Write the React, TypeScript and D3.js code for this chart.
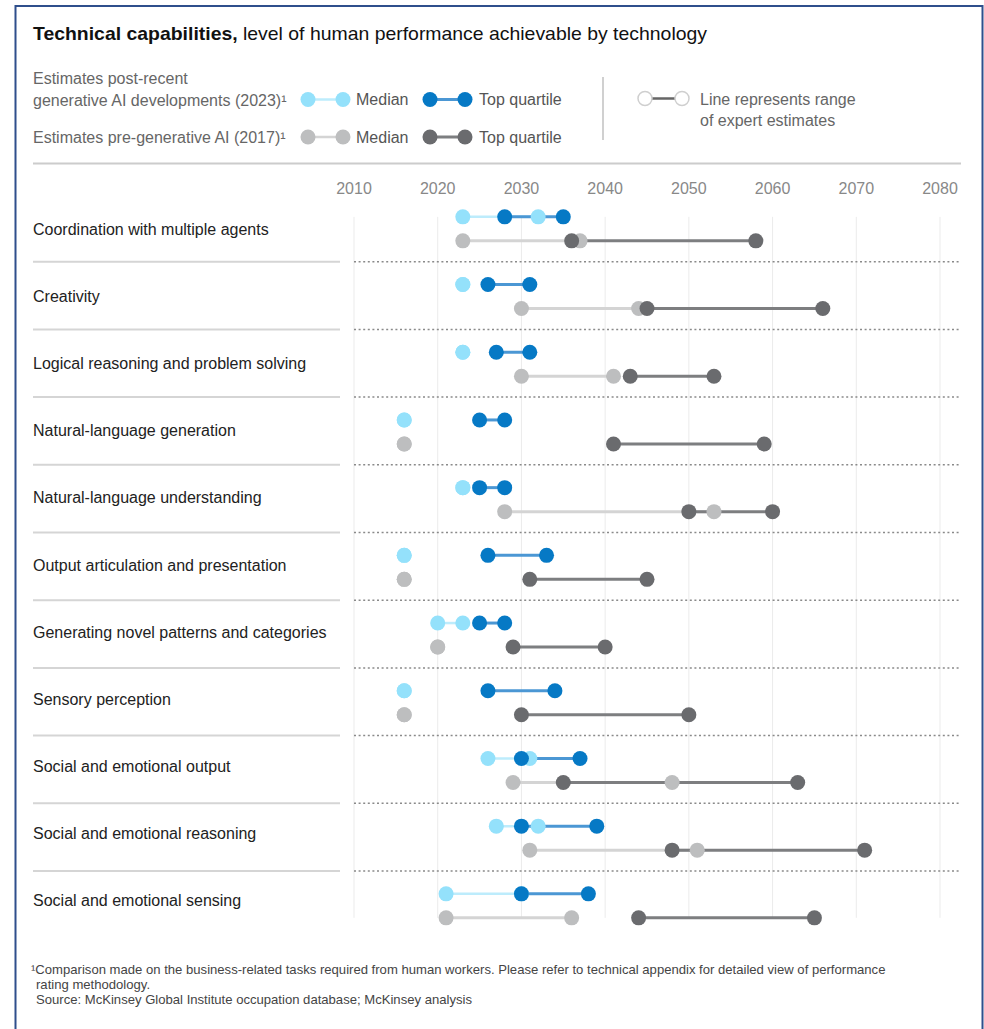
import React from "react";
import * as d3 from "d3";

const categories = [
  "Coordination with multiple agents",
  "Creativity",
  "Logical reasoning and problem solving",
  "Natural-language generation",
  "Natural-language understanding",
  "Output articulation and presentation",
  "Generating novel patterns and categories",
  "Sensory perception",
  "Social and emotional output",
  "Social and emotional reasoning",
  "Social and emotional sensing",
];

// [low, high] year ranges of expert estimates
const median2023: [number, number][] = [
  [2023, 2032], [2023, 2023], [2023, 2023], [2016, 2016], [2023, 2023], [2016, 2016],
  [2020, 2023], [2016, 2016], [2026, 2031], [2027, 2032], [2021, 2030],
];
const top2023: [number, number][] = [
  [2028, 2035], [2026, 2031], [2027, 2031], [2025, 2028], [2025, 2028], [2026, 2033],
  [2025, 2028], [2026, 2034], [2030, 2037], [2030, 2039], [2030, 2038],
];
const median2017: [number, number][] = [
  [2023, 2037], [2030, 2044], [2030, 2041], [2016, 2016], [2028, 2053], [2016, 2016],
  [2020, 2020], [2016, 2016], [2029, 2048], [2031, 2051], [2021, 2036],
];
const top2017: [number, number][] = [
  [2036, 2058], [2045, 2066], [2043, 2053], [2041, 2059], [2050, 2060], [2031, 2045],
  [2029, 2040], [2030, 2050], [2035, 2063], [2048, 2071], [2044, 2065],
];
const yearTicks = [2010, 2020, 2030, 2040, 2050, 2060, 2070, 2080];

const C = {
  lbDot: "#94e1fb", lbLine: "#bdecfc",
  dbDot: "#0679c5", dbLine: "#4b97d4",
  lgDot: "#bdbebf", lgLine: "#d4d4d4",
  dgDot: "#6a6b6e", dgLine: "#7d7e80",
};
const FONT = "'Liberation Sans', Arial, sans-serif";
const R = 7.5;

type Series = { data: [number, number][]; dot: string; line: string; lw: number; dy: number };

export default function App() {
  const x = d3.scaleLinear().domain([2010, 2080]).range([354, 940]);
  const y = d3.scaleBand<string>().domain(categories).range([195, 195 + 11 * 67.7]);
  const yl = d3.scaleBand<string>().domain(categories).range([196, 196 + 11 * 67.1]);
  const bw = y.bandwidth();
  const cy = (c: string) => (y(c) as number) + bw / 2;
  const ly = (c: string) => (yl(c) as number) + yl.bandwidth() / 2;

  const series: Series[] = [
    { data: median2023, dot: C.lbDot, line: C.lbLine, lw: 2.5, dy: -12 },
    { data: top2023, dot: C.dbDot, line: C.dbLine, lw: 3, dy: -12 },
    { data: median2017, dot: C.lgDot, line: C.lgLine, lw: 3, dy: 12 },
    { data: top2017, dot: C.dgDot, line: C.dgLine, lw: 3, dy: 12 },
  ];

  const first = cy(categories[0]);
  const last = cy(categories[categories.length - 1]);

  return (
    <div style={{ position: "absolute", left: 0, top: 0 }}>
      <svg width={984} height={1029} style={{ display: "block", background: "#fff" }} fontFamily={FONT}>
        <rect x={15.5} y={6} width={967} height={1040} fill="none" stroke="#2f4f8c" strokeWidth={2} />
        <text x={33} y={40} fontSize={19} fill="#111" textLength={674} lengthAdjust="spacingAndGlyphs">
          <tspan fontWeight="bold">Technical capabilities,</tspan>
          <tspan> level of human performance achievable by technology</tspan>
        </text>

        {/* legend */}
        <g fontSize={16} fill="#666">
          <text x={33} y={84}>Estimates post-recent</text>
          <text x={33} y={106}>generative AI developments (2023)¹</text>
          <text x={33} y={143}>Estimates pre-generative AI (2017)¹</text>
        </g>
        {[
          { yy: 99.5, a: C.lbDot, al: C.lbLine, b: C.dbDot, bl: C.dbLine },
          { yy: 137, a: C.lgDot, al: C.lgLine, b: C.dgDot, bl: C.dgLine },
        ].map((r, i) => (
          <g key={i}>
            <line x1={308} x2={343} y1={r.yy} y2={r.yy} stroke={r.al} strokeWidth={2.5} />
            <circle cx={308} cy={r.yy} r={R} fill={r.a} />
            <circle cx={343} cy={r.yy} r={R} fill={r.a} />
            <text x={356} y={r.yy + 5.5} fontSize={16} fill="#555">Median</text>
            <line x1={430} x2={465} y1={r.yy} y2={r.yy} stroke={r.bl} strokeWidth={3} />
            <circle cx={430} cy={r.yy} r={R} fill={r.b} />
            <circle cx={465} cy={r.yy} r={R} fill={r.b} />
            <text x={479} y={r.yy + 5.5} fontSize={16} fill="#555">Top quartile</text>
          </g>
        ))}
        <line x1={603} x2={603} y1={77} y2={140} stroke="#d0d0d0" strokeWidth={2} />
        <line x1={652} x2={675} y1={98.5} y2={98.5} stroke="#666" strokeWidth={2.5} />
        <circle cx={645} cy={98.5} r={7} fill="#fff" stroke="#cfcfcf" strokeWidth={1.5} />
        <circle cx={682} cy={98.5} r={7} fill="#fff" stroke="#cfcfcf" strokeWidth={1.5} />
        <g fontSize={16} fill="#666">
          <text x={700} y={104.5}>Line represents range</text>
          <text x={700} y={126}>of expert estimates</text>
        </g>

        <line x1={33} x2={961} y1={163.5} y2={163.5} stroke="#cccccc" strokeWidth={2} />

        {/* axis */}
        {yearTicks.map((t) => (
          <g key={t}>
            <text x={x(t)} y={193.5} fontSize={16} fill="#888" textAnchor="middle">{t}</text>
            <line x1={x(t)} x2={x(t)} y1={first - 12} y2={last + 12} stroke="#ebebeb" strokeWidth={1} />
          </g>
        ))}

        {/* row separators */}
        {categories.slice(0, -1).map((c) => {
          const yy = (y(c) as number) + bw - 1;
          return (
            <g key={c}>
              <line x1={33} x2={340} y1={yy} y2={yy} stroke="#d5d5d5" strokeWidth={2} />
              <line x1={354} x2={961} y1={yy} y2={yy} stroke="#8a8a8a" strokeWidth={1.5} strokeDasharray="2,2.6" />
            </g>
          );
        })}

        {/* labels */}
        {categories.map((c) => (
          <text key={c} x={33} y={ly(c) + 5.5} fontSize={16} fill="#222">{c}</text>
        ))}

        {/* lines */}
        {series.map((s, si) =>
          s.data.map((d, i) => {
            const yy = cy(categories[i]) + s.dy;
            return d[0] === d[1] ? null : (
              <line key={`l${si}-${i}`} x1={x(d[0])} x2={x(d[1])} y1={yy} y2={yy} stroke={s.line} strokeWidth={s.lw} />
            );
          })
        )}
        {/* dots */}
        {series.map((s, si) =>
          s.data.map((d, i) => {
            const yy = cy(categories[i]) + s.dy;
            return (
              <g key={`d${si}-${i}`}>
                <circle cx={x(d[0])} cy={yy} r={R} fill={s.dot} />
                <circle cx={x(d[1])} cy={yy} r={R} fill={s.dot} />
              </g>
            );
          })
        )}

        {/* footer */}
        <g fontSize={13.1} fill="#444">
          <text x={31} y={974}>¹Comparison made on the business-related tasks required from human workers. Please refer to technical appendix for detailed view of performance</text>
          <text x={36} y={989}>rating methodology.</text>
          <text x={36} y={1004}>Source: McKinsey Global Institute occupation database; McKinsey analysis</text>
        </g>
      </svg>
    </div>
  );
}
